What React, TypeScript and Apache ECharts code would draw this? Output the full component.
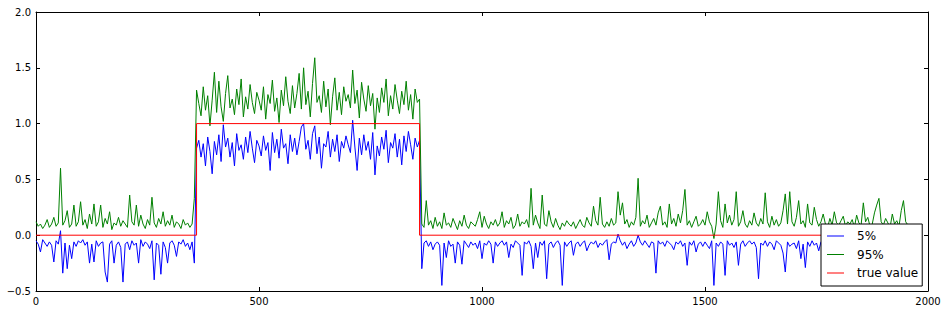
import React, { useEffect, useRef } from "react";
import * as echarts from "echarts";

// sampling step of the series along x (units)
const STEP = 5;

// 95% quantile (green), every 5 units, x = 0 .. 1955
const p95: number[] = [
  0.12, 0.08, 0.10, 0.06, 0.09, 0.14, 0.07, 0.10, 0.16, 0.08, 0.11, 0.60, 0.09, 0.13, 0.22, 0.07, 0.10, 0.27, 0.08, 0.12,
  0.30, 0.09, 0.14, 0.06, 0.19, 0.10, 0.28, 0.08, 0.12, 0.27, 0.07, 0.15, 0.10, 0.21, 0.05, 0.11, 0.09, 0.16, 0.08, 0.13,
  0.10, 0.07, 0.36, 0.12, 0.09, 0.27, 0.08, 0.18, 0.10, 0.06, 0.14, 0.09, 0.34, 0.11, 0.07, 0.15, 0.10, 0.21, 0.08, 0.13,
  0.09, 0.18, 0.07, 0.12, 0.10, 0.06, 0.14, 0.09, 0.11, 0.07, 0.10, 0.33, 1.30, 1.18, 1.07, 1.33, 1.12, 1.25, 0.98, 1.21,
  1.46, 1.10, 1.38, 1.15, 1.02, 1.27, 1.43, 1.14, 1.22, 1.08, 1.31, 1.17, 1.40, 1.06, 1.24, 1.13, 1.35, 1.19, 1.09, 1.28,
  1.21, 1.12, 1.33, 1.04, 1.26, 1.18, 1.39, 1.11, 1.23, 1.01, 1.30, 1.16, 1.42, 1.20, 1.09, 1.34, 1.14, 1.27, 1.45, 1.13,
  1.50, 1.17, 1.29, 1.06, 1.36, 1.59, 1.19, 1.25, 1.10, 1.38, 1.15, 1.31, 0.99, 1.24, 1.41, 1.12, 1.28, 1.08, 1.33, 1.20,
  1.26, 1.14, 1.48, 1.18, 1.30, 1.05, 1.37, 1.22, 1.11, 1.34, 1.16, 1.27, 0.95, 1.23, 1.10, 1.32, 1.19, 1.40, 1.07, 1.25,
  1.13, 1.35, 1.21, 1.09, 1.29, 1.17, 1.38, 1.12, 1.26, 1.04, 1.31, 1.19, 1.22, 0.10, 0.07, 0.31, 0.09, 0.13, 0.06, 0.16,
  0.08, 0.12, 0.06, 0.20, 0.09, 0.11, 0.07, 0.15, 0.10, 0.05, 0.13, 0.08, 0.18, 0.09, 0.06, 0.12, 0.10, 0.08, 0.14, 0.21,
  0.07, 0.17, 0.10, 0.06, 0.12, 0.09, 0.14, 0.08, 0.11, 0.21, 0.07, 0.13, 0.10, 0.16, 0.06, 0.09, 0.19, 0.08, 0.12, 0.10,
  0.14, 0.07, 0.42, 0.09, 0.18, 0.11, 0.06, 0.36, 0.10, 0.08, 0.22, 0.12, 0.07, 0.15, 0.09, 0.05, 0.11, 0.08, 0.13, 0.10,
  0.08, 0.12, 0.06, 0.10, 0.14, 0.09, 0.07, 0.16, 0.11, 0.08, 0.26, 0.13, 0.09, 0.34, 0.10, 0.07, 0.12, 0.08, 0.15, 0.09,
  0.11, 0.39, 0.18, 0.29, 0.10, 0.14, 0.07, 0.12, 0.09, 0.16, 0.51, 0.08, 0.13, 0.10, 0.18, 0.07, 0.11, 0.15, 0.09, 0.20,
  0.26, 0.09, 0.12, 0.07, 0.28, 0.10, 0.15, 0.08, 0.19, 0.11, 0.22, 0.41, 0.09, 0.13, 0.07, 0.12, 0.17, 0.08, 0.10, 0.14,
  0.09, 0.21, 0.12, 0.08, -0.03, 0.10, 0.39, 0.13, 0.07, 0.28, 0.11, 0.18, 0.09, 0.14, 0.39, 0.08, 0.12, 0.22, 0.10, 0.07,
  0.13, 0.09, 0.20, 0.11, 0.08, 0.15, 0.10, 0.38, 0.12, 0.07, 0.17, 0.09, 0.14, 0.08, 0.11, 0.22, 0.37, 0.10, 0.39, 0.12,
  0.08, 0.16, 0.31, 0.10, 0.13, 0.07, 0.28, 0.11, 0.09, 0.25, 0.14, 0.08, 0.12, 0.19, 0.10, 0.07, 0.15, 0.09, 0.21, 0.11,
  0.09, 0.13, 0.17, 0.08, 0.12, 0.10, 0.14, 0.07, 0.18, 0.11, 0.09, 0.29, 0.12, 0.16, 0.08, 0.10, 0.20, 0.27, 0.33, 0.12,
  0.09, 0.15, 0.11, 0.07, 0.19, 0.10, 0.13, 0.08, 0.22, 0.31, 0.12, 0.09,
];

// 5% quantile (blue), every 5 units, x = 0 .. 1955
const p5: number[] = [
  -0.05, -0.08, -0.15, -0.04, -0.07, -0.10, -0.06, -0.09, -0.24, -0.05, -0.08, 0.04, -0.34, -0.07, -0.30, -0.09, -0.21, -0.06, -0.10, -0.05,
  -0.07, -0.04, -0.09, -0.06, -0.25, -0.08, -0.24, -0.05, -0.10, -0.07, -0.06, -0.33, -0.42, -0.08, -0.05, -0.25, -0.09, -0.06, -0.11, -0.42,
  -0.08, -0.06, -0.13, -0.05, -0.09, -0.07, -0.25, -0.04, -0.10, -0.06, -0.08, -0.12, -0.05, -0.40, -0.07, -0.09, -0.35, -0.06, -0.11, -0.25,
  -0.07, -0.05, -0.09, -0.19, -0.06, -0.08, -0.04, -0.10, -0.07, -0.13, -0.06, -0.25, 0.78, 0.85, 0.70, 0.82, 0.62, 0.88, 0.75, 0.55,
  0.84, 0.72, 0.90, 0.66, 0.99, 0.79, 0.87, 0.70, 0.83, 0.62, 0.91, 0.76, 0.81, 0.68, 0.88, 0.74, 0.93, 0.78, 0.65, 0.85,
  0.80, 0.71, 0.89, 0.76, 0.83, 0.58, 0.92, 0.74, 0.86, 0.69, 0.95, 0.78, 0.82, 0.64, 0.90, 0.75, 0.87, 0.72, 0.84, 0.97,
  1.00, 0.77, 0.85, 0.68, 0.91, 0.98, 0.73, 0.88, 0.60, 0.82, 0.79, 0.93, 0.70, 0.86, 0.75, 0.90, 0.66, 0.84, 0.78, 0.89,
  0.81, 0.74, 1.03, 0.79, 0.58, 0.87, 0.72, 0.90, 0.76, 0.84, 0.68, 0.92, 0.54, 0.80, 0.71, 0.88, 0.77, 0.94, 0.65, 0.83,
  0.78, 0.91, 0.70, 0.86, 0.63, 0.89, 0.75, 0.93, 0.81, 0.68, 0.87, 0.79, 0.85, -0.30, -0.07, -0.05, -0.10, -0.06, -0.13, -0.08,
  -0.06, -0.09, -0.45, -0.07, -0.20, -0.05, -0.10, -0.08, -0.25, -0.06, -0.09, -0.26, -0.05, -0.08, -0.11, -0.06, -0.09, -0.07, -0.12, -0.05,
  -0.21, -0.07, -0.09, -0.05, -0.08, -0.25, -0.06, -0.10, -0.07, -0.05, -0.09, -0.06, -0.20, -0.08, -0.11, -0.05, -0.07, -0.09, -0.36, -0.06,
  -0.08, -0.05, -0.10, -0.30, -0.07, -0.20, -0.06, -0.09, -0.05, -0.39, -0.08, -0.06, -0.11, -0.07, -0.05, -0.09, -0.45, -0.06, -0.10, -0.07,
  -0.05, -0.18, -0.08, -0.06, -0.10, -0.07, -0.05, -0.14, -0.09, -0.06, -0.08, -0.05, -0.11, -0.07, -0.09, -0.06, -0.04, -0.22, -0.08, -0.06,
  -0.07, 0.01, -0.05, -0.09, -0.06, -0.12, -0.08, -0.05, -0.10, -0.07, 0.00, -0.06, -0.09, -0.05, -0.08, -0.11, -0.06, -0.07, -0.34, -0.05,
  -0.08, -0.06, -0.10, -0.05, -0.07, -0.09, -0.13, -0.06, -0.08, -0.05, -0.10, -0.07, -0.27, -0.06, -0.09, -0.05, -0.15, -0.08, -0.06, -0.10,
  -0.06, -0.09, -0.12, -0.05, -0.45, -0.07, -0.10, -0.06, -0.08, -0.36, -0.05, -0.09, -0.07, -0.11, -0.06, -0.27, -0.08, -0.05, -0.10, -0.07,
  -0.05, -0.08, -0.06, -0.11, -0.39, -0.07, -0.09, -0.05, -0.10, -0.06, -0.08, -0.13, -0.05, -0.07, -0.09, -0.16, -0.33, -0.06, -0.10, -0.08,
  -0.07, -0.12, -0.05, -0.21, -0.08, -0.29, -0.06, -0.10, -0.05, -0.09, -0.07, -0.14, -0.06, -0.08, -0.05, -0.11, -0.07, -0.09, -0.06, -0.10,
  -0.08, -0.05, -0.12, -0.07, -0.06, -0.20, -0.09, -0.05, -0.08, -0.14, -0.06, -0.07, -0.10, -0.05, -0.09, -0.25, -0.06, -0.08, -0.11, -0.07,
  -0.05, -0.09, -0.06, -0.18, -0.08, -0.05, -0.10, -0.07, -0.06, -0.22, -0.08, -0.05,
];

// true value (red step)
const trueX: number[] = [0, 360, 360, 860, 860, 1955];
const trueY: number[] = [0, 0, 1, 1, 0, 0];

const seriesNames = ["5%", "95%", "true value"];
const xTicks = { min: 0, max: 2000, interval: 500 };
const yTicks = { min: -0.5, max: 2.0, interval: 0.5 };

const FONT = "DejaVu Sans";

export default function App() {
  const ref = useRef<HTMLDivElement>(null);

  useEffect(() => {
    if (!ref.current) return;
    const chart = echarts.init(ref.current, undefined, { renderer: "svg" });

    const blueData = p5.map((v, i) => [i * STEP, v]);
    const greenData = p95.map((v, i) => [i * STEP, v]);
    const redData = trueX.map((x, i) => [x, trueY[i]]);

    const axisCommon = {
      axisLine: { show: true, onZero: false, lineStyle: { color: "#000", width: 1 } },
      axisTick: { show: true, inside: true, length: 4, lineStyle: { color: "#000", width: 1 } },
      splitLine: { show: false },
    };

    chart.setOption({
      animation: false,
      backgroundColor: "#fff",
      grid: { left: 36, right: 20, top: 12, bottom: 21, containLabel: false },
      xAxis: [
        {
          type: "value",
          position: "bottom",
          ...xTicks,
          ...axisCommon,
          axisLabel: {
            show: true,
            color: "#000",
            fontFamily: FONT,
            fontSize: 10,
            margin: 5,
            formatter: (v: number) => String(v),
          },
        },
        {
          type: "value",
          position: "top",
          ...xTicks,
          ...axisCommon,
          axisLabel: { show: false },
        },
      ],
      yAxis: [
        {
          type: "value",
          position: "left",
          ...yTicks,
          ...axisCommon,
          axisLabel: {
            show: true,
            color: "#000",
            fontFamily: FONT,
            fontSize: 10,
            margin: 5,
            formatter: (v: number) => v.toFixed(1).replace("-", "\u2212"),
          },
        },
        {
          type: "value",
          position: "right",
          ...yTicks,
          ...axisCommon,
          axisLabel: { show: false },
        },
      ],
      legend: {
        show: true,
        orient: "vertical",
        left: 821,
        top: 224,
        backgroundColor: "#fff",
        borderColor: "#000",
        borderWidth: 1,
        borderRadius: 0,
        padding: [5, 4, 6, 6],
        icon: "rect",
        itemWidth: 17,
        itemHeight: 1,
        itemGap: 4.5,
        z: 10,
        data: seriesNames,
        textStyle: { color: "#000", fontFamily: FONT, fontSize: 12, lineHeight: 14, padding: [0, 0, 0, 8] },
      },
      series: [
        {
          name: seriesNames[0],
          type: "line",
          data: blueData,
          symbol: "none",
          lineStyle: { color: "#0000ff", width: 1 },
          itemStyle: { color: "#0000ff" },
          silent: true,
          z: 2,
        },
        {
          name: seriesNames[1],
          type: "line",
          data: greenData,
          symbol: "none",
          lineStyle: { color: "#008000", width: 1 },
          itemStyle: { color: "#008000" },
          silent: true,
          z: 3,
        },
        {
          name: seriesNames[2],
          type: "line",
          data: redData,
          symbol: "none",
          lineStyle: { color: "#ff0000", width: 1 },
          itemStyle: { color: "#ff0000" },
          silent: true,
          z: 4,
        },
      ],
    });

    return () => chart.dispose();
  }, []);

  return (
    <div
      ref={ref}
      style={{ position: "absolute", left: 0, top: 0, width: 948, height: 312 }}
    />
  );
}
